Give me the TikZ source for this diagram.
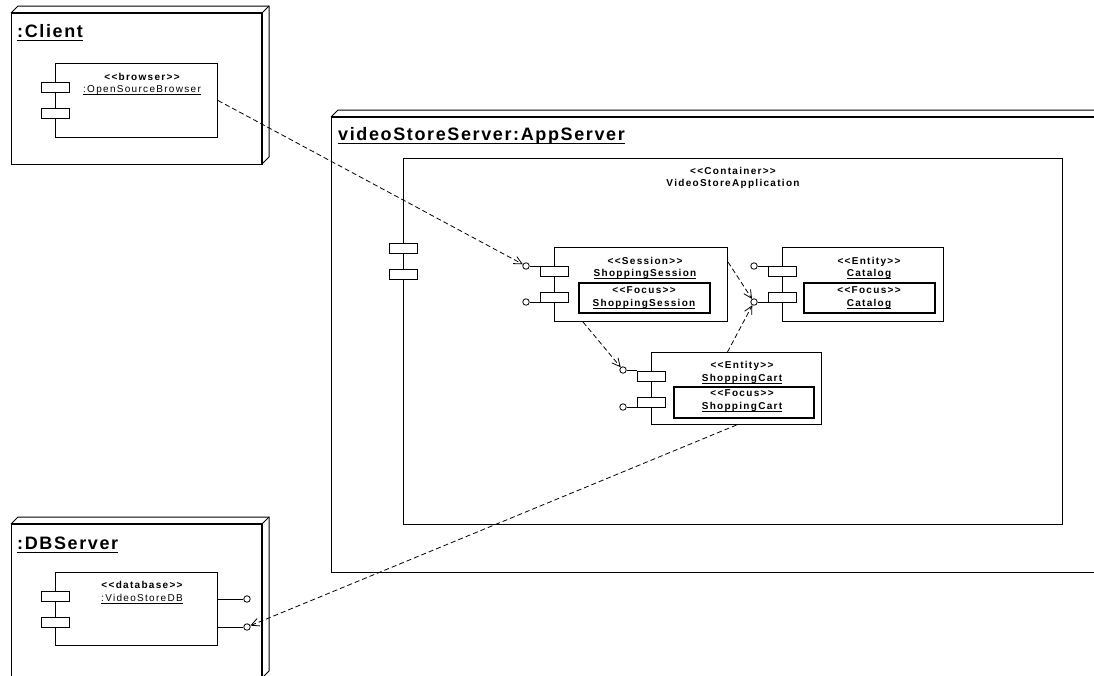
\documentclass[tikz,border=0pt]{standalone}
\usepackage{fontspec}
\setmainfont{Liberation Sans}
\newfontfamily\tagfont{Liberation Sans}[LetterSpace=13]
\newfontfamily\titlefont{Liberation Sans}[LetterSpace=9]
\usetikzlibrary{arrows.meta}
\newcommand\uline[1]{\setbox0=\hbox{#1}\rlap{\rule[-.24em]{\wd0}{.09em}}\box0}
\tikzset{
  box/.style={draw,line width=1pt,inner sep=0pt,anchor=north west},
  focusbox/.style={draw,line width=1.8pt,inner sep=0pt,anchor=north west},
  port/.style={draw,fill=white,line width=1pt,minimum width=28pt,minimum height=10pt,inner sep=0pt},
  lolli/.style={circle,draw,fill=white,line width=.8pt,minimum size=6.5pt,inner sep=0pt},
  stem/.style={line width=.8pt},
  tag/.style={font={\fontsize{10}{12.7}\tagfont\bfseries},align=center,inner sep=0pt,anchor=north},
  title/.style={font={\fontsize{18}{21}\titlefont\bfseries},inner sep=0pt,anchor=base west},
  dep/.style={dash pattern=on 5pt off 3pt,line width=.8pt,-{Straight Barb[length=8pt,width=8pt]}},
  cube/.style={line width=1pt},
  front/.style={line width=1.6pt}
}
\begin{document}
\begin{tikzpicture}[x=1pt,y=-1pt]
  \clip (0,0) rectangle (1094,675);
  \fill[white] (0,0) rectangle (1094,675);
  % client node
  \draw[cube] (11,13) rectangle (262,164); \draw[cube] (11,13)--(18,6)--(269,6)--(269,157)--(262,164); \draw[cube] (262,13)--(269,6);
  \draw[front] (11,13)--(262,13)--(262,164);
  \node[title] (client-t) at (17,37) {\uline{:Client}};
  \node[box,minimum width=162pt,minimum height=74pt] (browser) at (55,63) {};
  \node[port] (browser-p1) at ([yshift=-24pt]browser.north west) {}; \node[port] (browser-p2) at ([yshift=-50pt]browser.north west) {};
  \node[tag] (browser-t) at (142,72.8) {<<browser>>\\\uline{\mdseries :OpenSourceBrowser}};
  % app server node
  \draw[cube] (331,117) rectangle (1120,572); \draw[cube] (331,117)--(338,110)--(1127,110);
  \draw[front] (331,117)--(1120,117);
  \node[title] (app-t) at (338,140) {\uline{videoStoreServer:AppServer}};
  \node[box,minimum width=659pt,minimum height=366pt] (cont) at (403,158) {};
  \node[port] (cont-p1) at ([yshift=-90pt]cont.north west) {}; \node[port] (cont-p2) at ([yshift=-116pt]cont.north west) {};
  \node[tag] (cont-t) at (733,166.8) {<<Container>>\\VideoStoreApplication};
  % shopping session
  \node[box,minimum width=173pt,minimum height=74pt] (ss) at (554,247) {};
  \node[port] (ss-p1) at ([yshift=-24pt]ss.north west) {}; \node[port] (ss-p2) at ([yshift=-50pt]ss.north west) {};
  \node[lolli] (ss-l1) at ([xshift=-28pt,yshift=-19pt]ss.north west) {}; \node[lolli] (ss-l2) at ([xshift=-28pt,yshift=-55pt]ss.north west) {};
  \draw[stem] (ss-l1)--(ss-l1 -| ss-p1.west); \draw[stem] (ss-l2)--(ss-l2 -| ss-p2.west);
  \node[focusbox,minimum width=131pt,minimum height=30pt] (ss-f) at (578,282) {};
  \node[tag] (ss-t) at (645,256.8) {<<Session>>\\\uline{ShoppingSession}};
  \node[tag] (ss-ft) at (644,286.8) {<<Focus>>\\\uline{ShoppingSession}};
  % catalog
  \node[box,minimum width=161pt,minimum height=74pt] (cat) at (782,247) {};
  \node[port] (cat-p1) at ([yshift=-24pt]cat.north west) {}; \node[port] (cat-p2) at ([yshift=-50pt]cat.north west) {};
  \node[lolli] (cat-l1) at ([xshift=-28pt,yshift=-19pt]cat.north west) {}; \node[lolli] (cat-l2) at ([xshift=-28pt,yshift=-55pt]cat.north west) {};
  \draw[stem] (cat-l1)--(cat-l1 -| cat-p1.west); \draw[stem] (cat-l2)--(cat-l2 -| cat-p2.west);
  \node[focusbox,minimum width=131pt,minimum height=30pt] (cat-f) at (803,282) {};
  \node[tag] (cat-t) at (869,256.8) {<<Entity>>\\\uline{Catalog}};
  \node[tag] (cat-ft) at (869,286.8) {<<Focus>>\\\uline{Catalog}};
  % shopping cart
  \node[box,minimum width=170pt,minimum height=72pt] (cart) at (651,352) {};
  \node[port] (cart-p1) at ([yshift=-24pt]cart.north west) {}; \node[port] (cart-p2) at ([yshift=-50pt]cart.north west) {};
  \node[lolli] (cart-l1) at ([xshift=-28pt,yshift=-18pt]cart.north west) {}; \node[lolli] (cart-l2) at ([xshift=-28pt,yshift=-55pt]cart.north west) {};
  \draw[stem] (cart-l1)--(cart-l1 -| cart-p1.west); \draw[stem] (cart-l2)--(cart-l2 -| cart-p2.west);
  \node[focusbox,minimum width=140pt,minimum height=31pt] (cart-f) at (673,386) {};
  \node[tag] (cart-t) at (742,361.1) {<<Entity>>\\\uline{ShoppingCart}};
  \node[tag] (cart-ft) at (742,389.5) {<<Focus>>\\\uline{ShoppingCart}};
  % db server node
  \draw[cube] (11,524) rectangle (262,690); \draw[cube] (11,524)--(18,517)--(269,517)--(269,671)--(262,678); \draw[cube] (262,524)--(269,517);
  \draw[front] (11,524)--(262,524)--(262,690);
  \node[title] (dbs-t) at (17,549) {\uline{:DBServer}};
  \node[box,minimum width=162pt,minimum height=73pt] (db) at (55,572) {};
  \node[port] (db-p1) at ([yshift=-24pt]db.north west) {}; \node[port] (db-p2) at ([yshift=-50pt]db.north west) {};
  \node[lolli] (db-l1) at ([xshift=29pt,yshift=-27pt]db.north east) {}; \node[lolli] (db-l2) at ([xshift=29pt,yshift=-55pt]db.north east) {};
  \draw[stem] (db-l1)--(db-l1 -| db.east); \draw[stem] (db-l2)--(db-l2 -| db.east);
  \node[tag] (db-t) at (142,581.1) {<<database>>\\\uline{\mdseries :VideoStoreDB}};
  % dependencies
  \draw[dep] (browser.east)--(ss-l1);
  \draw[dep] ([yshift=-15pt]ss.north east)--(cat-l2);
  \draw[dep] ([xshift=-9pt]cart.north)--(cat-l2);
  \draw[dep] ([xshift=29pt]ss.south west)--(cart-l1);
  \draw[dep] (cart.south)--(db-l2);
\end{tikzpicture}
\end{document}
